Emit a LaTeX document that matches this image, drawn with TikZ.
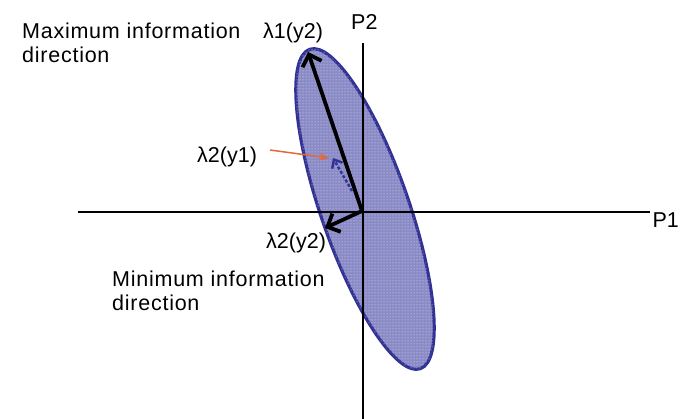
\documentclass[tikz,border=0pt]{standalone}
\usepackage{fontspec}
\setmainfont{Liberation Sans}
\usetikzlibrary{arrows.meta,shapes.geometric,patterns}
\definecolor{ellfill}{RGB}{138,138,198}
\definecolor{ellline}{RGB}{50,50,148}
\definecolor{orangearr}{RGB}{225,105,60}
\begin{document}
\begin{tikzpicture}[x=1pt,y=-1pt,
  lbl/.style={inner sep=0pt, anchor=base west, font=\fontsize{21.5}{26}\selectfont},
  wide/.style={lbl, font=\fontsize{21.5}{26}\selectfont\addfontfeature{LetterSpace=3.5}},
  axis/.style={line width=1.3pt, black},
  bigarrow/.style={line width=3.8pt, black, -{Straight Barb[length=10pt,width=20pt,line width=3.8pt]}}
]
\useasboundingbox (0,0) rectangle (681,419);
\fill[white] (0,0) rectangle (681,419);
% ellipse
\node[ellipse, draw=ellline, line width=3.2pt, fill=ellfill, inner sep=0pt,
  minimum width=338pt, minimum height=88pt, rotate=109.1,
  postaction={pattern=dots, pattern color=white!80!ellfill}] (ell) at (365,209) {};
% axes
\coordinate (xl) at (78,212);
\coordinate (xr) at (650,212);
\coordinate (yt) at (363,43);
\coordinate (yb) at (363,419);
\draw[axis] (xl) -- (xr);
\draw[axis] (yt) -- (yb);
% arrows
\coordinate (O) at (362,211);
\coordinate (tip1) at (308,52);
\coordinate (tip2) at (325,228);
\draw[bigarrow] (O) -- (tip1);
\draw[bigarrow] (O) -- (tip2);
\coordinate (s1) at (352,191);
\coordinate (s2) at (333,158);
\draw[ellline, line width=2.4pt, dash pattern=on 3pt off 2pt, -{Straight Barb[length=7pt,width=12pt,line width=2.4pt]}] (s1) -- (s2);
% labels
\node[wide] (max1) at (22,39) {Maximum information};
\node[wide] (max2) at (22,63) {direction};
\node[lbl] (l1) at (263,39) {λ1(y2)};
\node[lbl] (p2) at (351,30) {P2};
\node[lbl, anchor=base east] (p1) at (679,228) {P1};
\node[lbl] (l2y1) at (197,163) {λ2(y1)};
\node[lbl] (l2y2) at (266,249) {λ2(y2)};
\node[wide] (min1) at (112,287) {Minimum information};
\node[wide] (min2) at (112,311) {direction};
\coordinate (o1) at (270,150);
\coordinate (o2) at (329,158);
\draw[orangearr, line width=1.5pt, -{Stealth[length=10pt,width=8pt]}] (o1) -- (o2);
\end{tikzpicture}
\end{document}
